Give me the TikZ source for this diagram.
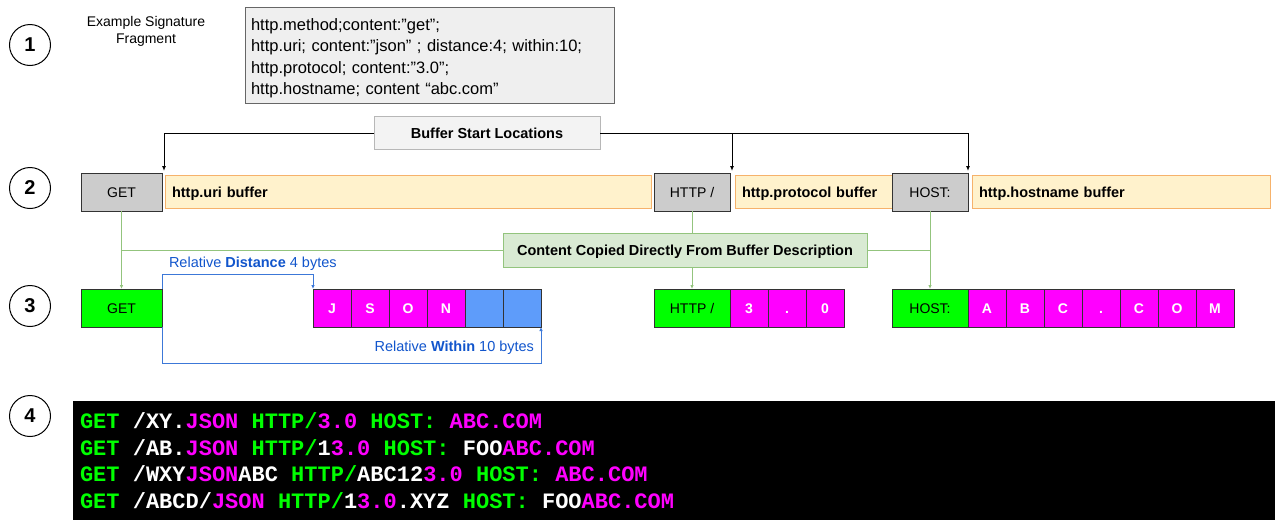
\documentclass[tikz,border=0pt]{standalone}
\usepackage{fontspec}
\setmainfont{Liberation Sans}
\setmonofont{Liberation Mono}
\usetikzlibrary{positioning, arrows.meta}
\definecolor{sigfill}{HTML}{EFEFEF}
\definecolor{sigedge}{HTML}{666666}
\definecolor{startfill}{HTML}{F3F3F3}
\definecolor{startedge}{HTML}{B7B7B7}
\definecolor{keygray}{HTML}{CCCCCC}
\definecolor{bufyellow}{HTML}{FFF2CC}
\definecolor{bufedge}{HTML}{F6B26B}
\definecolor{contfill}{HTML}{D9EAD3}
\definecolor{contedge}{HTML}{93C47D}
\definecolor{hitgreen}{HTML}{00FF00}
\definecolor{hitpink}{HTML}{FF00FF}
\definecolor{gapblue}{HTML}{5E9CFA}
\definecolor{relline}{HTML}{3C78D8}
\definecolor{reltext}{HTML}{1155CC}
\newcommand{\hitg}[1]{\textcolor{hitgreen}{#1}}
\newcommand{\hitp}[1]{\textcolor{hitpink}{#1}}
\newcommand{\fsz}[1]{\fontsize{#1}{#1}\selectfont}
\newcommand{\codespaces}{\spaceskip=13.2pt\xspaceskip=13.2pt\relax}
\tikzset{
x=1pt, y=-1pt, % one unit is one pixel of the sketch, y runs downwards
every node/.style={inner sep=0pt, outer sep=0pt},
num/.style={circle, draw, line width=1pt, minimum size=41pt, font=\bfseries\fsz{20}}, % step numbers
sig/.style={draw=sigedge, fill=sigfill, line width=1pt, minimum width=369pt, minimum height=96pt,
  text width=357pt, inner xsep=6pt, align=left, font=\fontsize{16.5}{21.5}\selectfont},
startbox/.style={draw=startedge, fill=startfill, line width=1pt, minimum width=226pt, minimum height=33pt,
  text height=10.5pt, text depth=0pt, font=\bfseries\fsz{14.5}},
key/.style={draw=black!80, fill=keygray, line width=1pt, minimum height=38pt,
  text height=10pt, text depth=0pt, font=\fsz{14}}, % sticky buffer keywords
buf/.style={draw=bufedge, fill=bufyellow, line width=1pt, minimum height=33pt, inner xsep=7pt, align=left,
  text height=10.5pt, text depth=0pt, font=\bfseries\fsz{14.5}},
contbox/.style={draw=contedge, fill=contfill, line width=1pt, minimum width=364pt, minimum height=34pt,
  text height=10.5pt, text depth=0pt, font=\bfseries\fsz{14.5}},
val/.style={draw=black!80, fill=hitgreen, line width=1pt, minimum height=38pt,
  text height=10pt, text depth=0pt, font=\fsz{14}},
cell/.style={draw=black!80, fill=hitpink, line width=1pt, minimum width=38pt, minimum height=38pt,
  text height=10pt, text depth=0pt, text=white, font=\bfseries\fsz{14}},
gap/.style={cell, fill=gapblue},
startarrow/.style={line width=1pt, -{Latex[length=5pt,width=4pt]}},
gline/.style={contedge, line width=1pt},
relarrow/.style={relline, line width=1pt, -{Latex[length=4pt,width=3.5pt]}},
reltxt/.style={text=reltext, font=\fsz{14.5}},
codebox/.style={fill=black, text=white, minimum width=1202pt, minimum height=119pt, text width=1188pt,
  inner xsep=7pt, align=left, font=\ttfamily\bfseries\fontsize{22}{26.5}\selectfont},
}
\begin{document}
\begin{tikzpicture}
\useasboundingbox (0,0) rectangle (1275,520);

% step numbers
\node[num] (n1) at (30,45) {1};
\node[num] (n2) at (30,188) {2};
\node[num] (n3) at (30,306) {3};
\node[num] (n4) at (30,416) {4};

% 1: signature
\node[align=center, font=\fontsize{14}{17}\selectfont] (siglabel) at (146,31) {Example Signature\\Fragment};
\node[sig, anchor=north west] (sigbox) at (245,7) {\rule{0pt}{18pt}http.method;content:”get”;\\
http.uri; content:”json” ; distance:4; within:10;\\
http.protocol; content:”3.0”;\\
http.hostname; content “abc.com”};

% 2: buffers
\node[startbox] (bufstart) at (487,133) {Buffer Start Locations};
\node[key, minimum width=81pt] (getkey) at (121.5,192) {GET};
\node[buf, text width=472pt, right=3pt of getkey] (uribuf) {http.uri buffer};
\node[key, minimum width=76pt, right=3pt of uribuf] (httpkey) {HTTP /};
\node[buf, text width=143pt, right=5pt of httpkey] (protobuf) {http.protocol buffer};
\node[key, minimum width=76pt, right=0pt of protobuf] (hostkey) {HOST:};
\node[buf, text width=284pt, right=4pt of hostkey] (hostbuf) {http.hostname buffer};

\draw[startarrow] (bufstart.west) -| ([xshift=2pt,yshift=2pt]getkey.north east);
\draw[startarrow] (bufstart.east) -| ([xshift=2pt,yshift=2pt]httpkey.north east);
\draw[startarrow] (bufstart.east) -| ([yshift=2pt]hostkey.north east);

% 3: content matches
\node[contbox] (content) at (685,250) {Content Copied Directly From Buffer Description};
\node[val, minimum width=81pt, below=78pt of getkey] (getval) {GET};
\node[cell, right=151pt of getval] (cj) {J};
\node[cell, right=0pt of cj] (cs) {S};
\node[cell, right=0pt of cs] (co) {O};
\node[cell, right=0pt of co] (cn) {N};
\node[gap, right=0pt of cn] (cx1) {};
\node[gap, right=0pt of cx1] (cx2) {};

\node[val, minimum width=76pt, below=78pt of httpkey] (httpval) {HTTP /};
\node[cell, right=0pt of httpval] (v3) {3};
\node[cell, right=0pt of v3] (vdot) {.};
\node[cell, right=0pt of vdot] (v0) {0};

\node[val, minimum width=76pt, below=78pt of hostkey] (hostval) {HOST:};
\node[cell, right=0pt of hostval] (ha) {A};
\node[cell, right=0pt of ha] (hb) {B};
\node[cell, right=0pt of hb] (hc) {C};
\node[cell, right=0pt of hc] (hdot) {.};
\node[cell, right=0pt of hdot] (hc2) {C};
\node[cell, right=0pt of hc2] (ho) {O};
\node[cell, right=0pt of ho] (hm) {M};

\draw[gline] (getkey.south) |- (content.west);
\draw[gline, -{Latex[length=4pt,width=3.5pt]}] (getkey.south) -- (getval.north);
\draw[gline] (httpkey.south) -- (httpkey.south |- content.north);
\draw[gline, -{Latex[length=4pt,width=3.5pt]}] (httpkey.south |- content.south) -- (httpval.north);
\draw[gline] (content.east) -| (hostkey.south);
\draw[gline, -{Latex[length=4pt,width=3.5pt]}] (hostkey.south) -- (hostval.north);

\draw[relarrow] (getval.north east) -- ++(0,-15) -| (cj.north west);
\draw[relarrow] (getval.south east) -- ++(0,36) -| (cx2.south east);
\node[reltxt, anchor=west] (distlbl) at (169,264) {Relative \textbf{Distance} 4 bytes};
\node[reltxt, anchor=east] (withinlbl) at (534,348) {Relative \textbf{Within} 10 bytes};

% 4: matching requests
\node[codebox, anchor=north west] (code) at (73,401) {\codespaces
\hitg{GET} /XY.\hitp{JSON} \hitg{HTTP/}\hitp{3.0} \hitg{HOST:} \hitp{ABC.COM}\\
\hitg{GET} /AB.\hitp{JSON} \hitg{HTTP/}1\hitp{3.0} \hitg{HOST:} FOO\hitp{ABC.COM}\\
\hitg{GET} /WXY\hitp{JSON}ABC \hitg{HTTP/}ABC12\hitp{3.0} \hitg{HOST:} \hitp{ABC.COM}\\
\hitg{GET} /ABCD/\hitp{JSON} \hitg{HTTP/}1\hitp{3.0}.XYZ \hitg{HOST:} FOO\hitp{ABC.COM}};

\end{tikzpicture}
\end{document}
